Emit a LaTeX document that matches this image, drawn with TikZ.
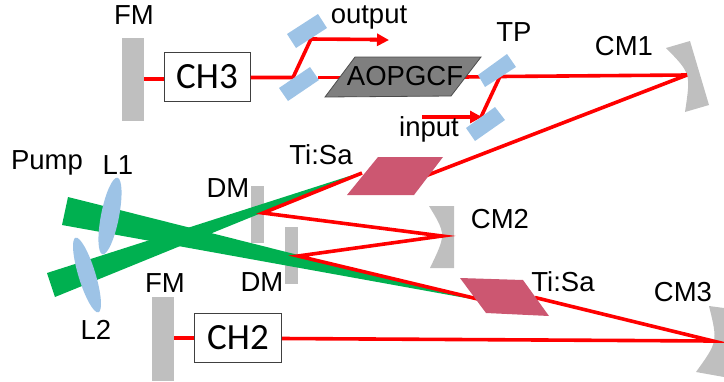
\documentclass[tikz,border=0pt]{standalone}
\usepackage{fontspec}
\setmainfont{Liberation Sans}
\newfontfamily\boxfont{Carlito}
\usetikzlibrary{arrows.meta}
\definecolor{ray}{RGB}{255,0,0}
\definecolor{pumpgreen}{RGB}{0,176,80}
\definecolor{mirrorgray}{RGB}{191,191,191}
\definecolor{plateblue}{RGB}{157,195,230}
\definecolor{crystal}{RGB}{204,87,113}
\definecolor{fibergray}{RGB}{127,127,127}
\tikzset{
  beam/.style={draw=ray,line width=3.6pt,line join=miter},
  tipped/.style={beam,-{Triangle[length=12pt,width=12pt]},shorten >=-1pt},
  mirror/.style={fill=mirrorgray,draw=none},
  plate/.style={fill=plateblue,draw=none},
  tisa/.style={fill=crystal,draw=none},
  pumpbeam/.style={fill=pumpgreen,draw=none},
  lbl/.style={inner sep=0pt,font=\fontsize{27.5}{27.5}\selectfont,text=black},
  chbox/.style={draw=black!75,line width=1pt,fill=white,inner sep=0pt,font=\boxfont\fontsize{37}{37}\selectfont}
}
\begin{document}
\begin{tikzpicture}[x=1pt,y=-1pt]
\useasboundingbox (0,0) rectangle (724,381);
% flat mirrors
\fill[mirror] (122,38) rectangle (144,121);
\fill[mirror] (152,297) rectangle (174,381);
\fill[mirror] (251,186) rectangle (264,243);
\fill[mirror] (285,227) rectangle (298,284);
% curved mirrors
\fill[mirror] (666,48) .. controls (690.8,73.3) .. (685,112) -- (709,105) -- (690,41) -- cycle;
\fill[mirror] (429,206) .. controls (446.2,234.3) .. (430,268) -- (454,268) -- (454,206) -- cycle;
\fill[mirror] (709,306) .. controls (717.8,341.7) .. (696,372) -- (724,377) -- (724,308) -- cycle;
% pump beams
\fill[pumpbeam] (68,197) -- (62,225) -- (477,300) -- cycle;
\fill[pumpbeam] (47,273) -- (55,297) -- (362,172) -- cycle;
% lenses
\fill[plate,rotate around={-11:(110,216)}] (110,216) ellipse (9pt and 39pt);
\fill[plate,rotate around={17:(87,275)}] (87,275) ellipse (8.5pt and 39pt);
% ray points
\coordinate (cm1) at (687,75);
\coordinate (cm2) at (442,236);
\coordinate (cm3) at (713,341);
\coordinate (dm1) at (263,213);
\coordinate (dm2) at (298,256);
\coordinate (s1) at (293,77.5);
\coordinate (s2) at (311,39);
\coordinate (tp1) at (500,76.5);
\coordinate (tp2) at (481,117);
\coordinate (outend) at (388,40);
\coordinate (inbeg) at (422,117);
\coordinate (fmA) at (144,79);
\coordinate (fmB) at (174,338);
% boxes
\node[chbox,minimum width=86pt,minimum height=49pt] (ch3) at (207,76.5) {CH3};
\node[chbox,minimum width=87pt,minimum height=49pt] (ch2) at (238,338) {CH2};
% rays
\draw[beam] (fmA) -- (ch3.west |- fmA);
\draw[beam] (ch3.east |- s1) -- (s1) -- (s2) -- (377,39.5);
\draw[tipped] (370,39.7) -- (outend);
\draw[beam] (318,77.5) -- (345,77.5);
\draw[beam] (465,77) -- (tp1) -- (cm1);
\draw[beam] (tp1) -- (tp2);
\draw[tipped] (inbeg) -- (tp2);
\draw[beam] (cm1) -- (415,180);
\draw[beam] (362,173) -- (dm1) -- (cm2) -- (dm2) -- (482,300);
\draw[beam] (535,297.5) -- (cm3) -- (ch2.east |- 0,338.5);
\draw[beam] (fmB) -- (ch2.west |- fmB);
% crystals
\fill[tisa] (378,157) -- (443,157) -- (414,195) -- (347,195) -- cycle;
\fill[tisa] (460,278) -- (523,280) -- (549,316) -- (486,313) -- cycle;
% plates
\fill[plate] (287,34) -- (318,14) -- (327,28) -- (296,48) -- cycle;
\fill[plate] (279,88) -- (310,67) -- (319,80) -- (288,101) -- cycle;
\fill[plate] (478,75) -- (507,54) -- (516,67) -- (485,87) -- cycle;
\fill[plate] (466,128) -- (495,107) -- (505,120) -- (475,141) -- cycle;
% fibre
\fill[fibergray,draw=black!70,line width=0.8pt] (355,57) -- (481,57) -- (451,96) -- (325,97) -- cycle;
\node[lbl] (fib) at (405,76) {AOPGCF};
% labels
\node[lbl] (fm1) at (134,15) {FM};
\node[lbl] (fm2) at (165,283) {FM};
\node[lbl] (output) at (369,17) {output};
\node[lbl] (tp) at (514,32) {TP};
\node[lbl] (cm1l) at (624,46) {CM1};
\node[lbl] (input) at (429,129) {input};
\node[lbl] (pump) at (47,163) {Pump};
\node[lbl] (l1) at (118,165) {L1};
\node[lbl] (l2) at (96,330) {L2};
\node[lbl] (tis1) at (321,155) {Ti:Sa};
\node[lbl] (tis2) at (563,282) {Ti:Sa};
\node[lbl] (dm1l) at (228,188) {DM};
\node[lbl] (dm2l) at (262,282) {DM};
\node[lbl] (cm2l) at (500,219) {CM2};
\node[lbl] (cm3l) at (683,292) {CM3};
\end{tikzpicture}
\end{document}
